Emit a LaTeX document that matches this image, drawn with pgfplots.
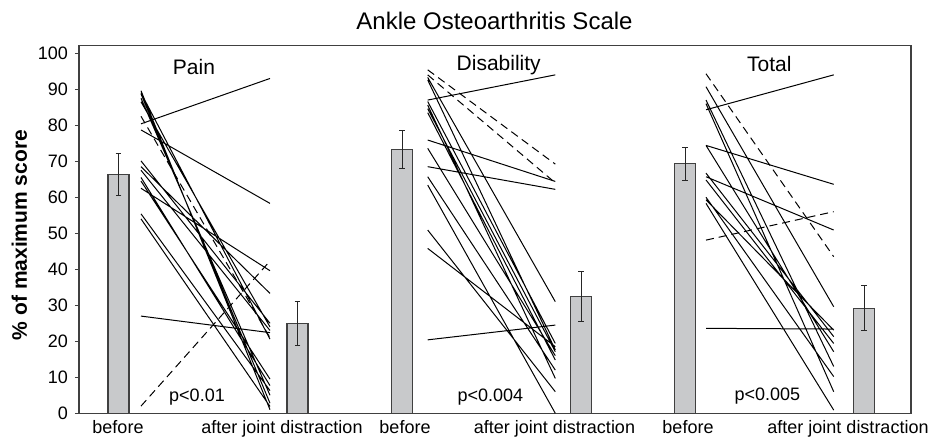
\documentclass[border=0pt]{standalone}
\usepackage{fontspec}
\setmainfont{Liberation Sans}
\usepackage{pgfplots}
\pgfplotsset{compat=1.18}
\definecolor{barfill}{RGB}{200,201,203}
\pgfplotsset{
  pline/.style={black, line width=0.5pt, no markers},
  dline/.style={black, line width=0.5pt, no markers, dash pattern=on 4pt off 2.5pt},
}
\begin{document}
\begin{tikzpicture}
\path[use as bounding box] (-39.5pt,-12.35pt) rectangle (428.5pt,206.65pt);
\begin{axis}[
  at={(0,0)}, anchor=south west,
  scale only axis, width=416pt, height=183.8pt,
  xmin=79, xmax=911, ymin=0, ymax=102.1,
  clip=false,
  unbounded coords=jump,
  axis line style={black!75, line width=0.6pt},
  ytick={0,10,...,100},
  ytick pos=left, xtick pos=bottom,
  tick align=outside,
  major tick length=2pt,
  ytick style={black!75, line width=0.5pt},
  xtick={118,282,405,554.5,688,848},
  xticklabels={before, after joint distraction, before, after joint distraction, before, after joint distraction},
  x tick style={draw=none},
  tick label style={font=\fontsize{9}{10}\selectfont},
  xticklabel style={anchor=base, yshift=-8pt},
  /pgf/number format/assume math mode=true,
]
% bars
\addplot[ybar, bar width=10.5pt, fill=barfill, draw=black!75, line width=0.6pt,
  error bars/.cd, y dir=both, y explicit,
  error bar style={black!85, line width=0.5pt},
  error mark options={rotate=90, mark size=1.4pt, black!85, line width=0.5pt}]
  coordinates {
  (118.5,66.3) +- (0,5.9)
  (297.5,25.0) +- (0,6.1)
  (402,73.3) +- (0,5.2)
  (581,32.4) +- (0,7.0)
  (685,69.3) +- (0,4.6)
  (864,29.2) +- (0,6.3)
  };
% Pain
\addplot[pline] table {
x y
141 80.4
270 93.0
nan nan
141 78.7
270 58.3
nan nan
141 27.0
270 22.4
nan nan
141 89.6
270 1.0
nan nan
141 88.7
270 2.8
nan nan
141 87.5
270 5.0
nan nan
141 86.5
270 24.0
nan nan
141 89.0
270 20.6
nan nan
141 70.1
270 25.0
nan nan
141 68.5
270 33.3
nan nan
141 67.5
270 23.0
nan nan
141 64.5
270 9.5
nan nan
141 62.5
270 39.6
nan nan
141 65.5
270 7.7
nan nan
141 55.4
270 6.3
nan nan
141 54.0
270 1.9
};
\addplot[dline] table {
x y
141 2.0
270 42.3
nan nan
141 82.5
270 21.0
};
% Disability
\addplot[pline] table {
x y
427.7 87.0
555.3 94.0
nan nan
427.7 75.9
555.3 64.4
nan nan
427.7 68.5
555.3 62.2
nan nan
427.7 20.4
555.3 24.5
nan nan
427.7 93.3
555.3 31.0
nan nan
427.7 92.6
555.3 17.6
nan nan
427.7 86.6
555.3 19.4
nan nan
427.7 85.6
555.3 9.7
nan nan
427.7 84.6
555.3 17.1
nan nan
427.7 83.5
555.3 14.8
nan nan
427.7 73.6
555.3 16.0
nan nan
427.7 65.7
555.3 12.0
nan nan
427.7 63.4
555.3 0.0
nan nan
427.7 50.9
555.3 6.0
nan nan
427.7 45.8
555.3 18.5
};
\addplot[dline] table {
x y
427.7 95.4
555.3 69.2
nan nan
427.7 94.0
555.3 64.0
};
% Total
\addplot[pline] table {
x y
706 84.3
833.7 94.0
nan nan
706 90.7
833.7 29.6
nan nan
706 87.0
833.7 13.0
nan nan
706 86.0
833.7 6.0
nan nan
706 74.4
833.7 63.6
nan nan
706 74.4
833.7 17.1
nan nan
706 66.7
833.7 21.3
nan nan
706 65.7
833.7 50.9
nan nan
706 64.8
833.7 19.4
nan nan
706 60.0
833.7 10.2
nan nan
706 59.3
833.7 23.1
nan nan
706 58.3
833.7 0.9
nan nan
706 23.6
833.7 23.4
};
\addplot[dline] table {
x y
706 94.3
833.7 43.5
nan nan
706 48.1
833.7 56.0
};
% texts
\node[font=\fontsize{10.5}{12}\selectfont] at (axis cs:194,96.3) {Pain};
\node[font=\fontsize{10.5}{12}\selectfont] at (axis cs:498.7,96.7) {Disability};
\node[font=\fontsize{10.5}{12}\selectfont] at (axis cs:769.3,96.9) {Total};
\node[font=\fontsize{9}{10}\selectfont] at (axis cs:197,4.6) {p<0.01};
\node[font=\fontsize{9}{10}\selectfont] at (axis cs:490.3,4.6) {p<0.004};
\node[font=\fontsize{9}{10}\selectfont] at (axis cs:767.3,4.7) {p<0.005};
\node[font=\fontsize{12}{14}\selectfont, anchor=base, yshift=7.85pt] at (axis cs:494.5,102.1) {Ankle Osteoarthritis Scale};
\node[font=\bfseries\fontsize{10.5}{12}\selectfont, rotate=90, anchor=base] at (axis cs:27,49.5) {\% of maximum score};
\end{axis}
\end{tikzpicture}
\end{document}
